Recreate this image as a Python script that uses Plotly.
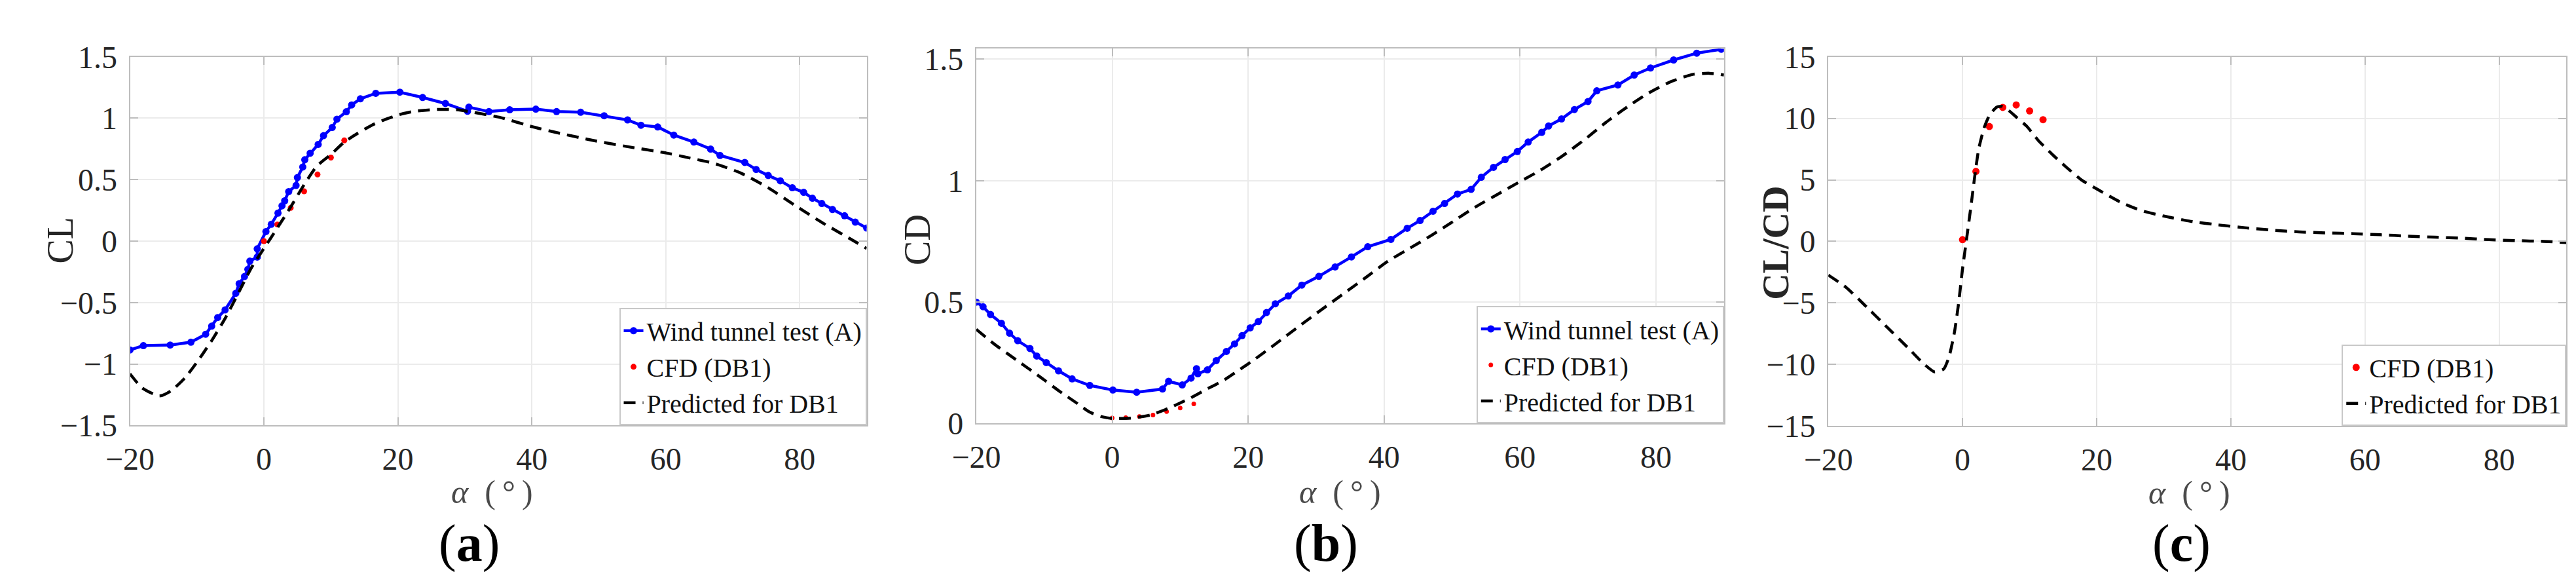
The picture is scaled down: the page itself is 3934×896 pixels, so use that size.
import plotly.graph_objects as go

# ---------------- data ----------------
# (a) lift coefficient
a_wt_alpha = [-20, -18, -14, -10.9, -8.7, -7.8, -6.9, -5.8, -4.2, -3.7, -2.9, -2.4, -2.1, -1.0, -1.0,
              0.3, 1.1, 2.1, 2.7, 3.1, 3.7, 4.8, 5.0, 5.8, 6.1, 6.9, 8.1, 8.9, 10.2, 10.9,
              12.3, 13.1, 14.4, 16.7, 20.3, 23.7, 27.1, 30.4, 30.6, 33.6, 36.7, 40.6, 43.7, 47.3, 50.8,
              54.3, 56.3, 58.8, 61.2, 64.2, 66.7, 68.1, 71.8, 73.5, 75.3, 77.1, 78.9, 80.6, 81.9, 83.3,
              84.9, 86.7, 88.3, 90]
a_wt_cl = [-0.886, -0.851, -0.846, -0.823, -0.758, -0.692, -0.622, -0.56, -0.425, -0.347, -0.288, -0.23, -0.163, -0.13, -0.063,
           0.078, 0.137, 0.228, 0.287, 0.328, 0.403, 0.453, 0.517, 0.603, 0.662, 0.715, 0.787, 0.858, 0.925, 0.992,
           1.053, 1.108, 1.158, 1.203, 1.212, 1.169, 1.12, 1.057, 1.09, 1.054, 1.069, 1.074, 1.054, 1.049, 1.02,
           0.986, 0.943, 0.929, 0.863, 0.806, 0.749, 0.697, 0.64, 0.583, 0.534, 0.491, 0.434, 0.397, 0.349, 0.306,
           0.257, 0.206, 0.154, 0.106]

cfd_alpha = [0, 2, 4, 6, 8, 10, 12]
a_cfd_cl = [0.0, 0.135, 0.27, 0.405, 0.542, 0.68, 0.82]

a_pred_alpha = [-20, -18.2, -15.6, -13.9, -11.8, -9.8, -7.8, -5.7, -3.7, -1.9, 0, 1.8, 3.8, 5.9, 7.9,
                10, 12, 14, 16.1, 18.1, 20.2, 22.2, 25.5, 28.8, 31.2, 35.3, 40.2, 44.2, 49.1, 54.9,
                59.8, 63.0, 67.1, 71.2, 75.3, 79.3, 83.4, 87.5, 90]
a_pred_cl = [-1.08, -1.194, -1.26, -1.22, -1.114, -0.97, -0.81, -0.62, -0.41, -0.22, -0.06, 0.09, 0.26, 0.45, 0.61,
             0.705, 0.806, 0.877, 0.943, 0.99, 1.029, 1.054, 1.071, 1.069, 1.049, 1.006, 0.929, 0.877, 0.82, 0.763,
             0.72, 0.683, 0.634, 0.554, 0.434, 0.291, 0.149, 0.02, -0.06]

# (b) drag coefficient
b_wt_alpha = [-20, -19, -17.9, -16.3, -15.1, -13.9, -12.1, -11.1, -9.7, -7.9,
              -5.9, -3.3, 0.1, 3.6, 7.4, 8.3, 10.3, 11.6, 12.4, 12.6,
              14.0, 15.3, 16.8, 18.0, 19.1, 20.3, 21.5, 22.7, 24.0, 25.9,
              27.9, 30.4, 32.8, 35.2, 37.6, 41.0, 43.4, 45.3, 47.2, 48.9,
              50.8, 52.8, 54.3, 56.1, 57.8, 59.6, 61.2, 63.2, 64.2, 66.1,
              68.0, 70.0, 71.3, 74.4, 76.8, 79.2, 82.6, 86.0, 89.6]
b_wt_cd = [0.5, 0.481, 0.449, 0.413, 0.372, 0.341, 0.309, 0.278, 0.251, 0.217,
           0.184, 0.157, 0.138, 0.129, 0.142, 0.174, 0.159, 0.187, 0.226, 0.205,
           0.221, 0.259, 0.297, 0.328, 0.362, 0.394, 0.42, 0.457, 0.493, 0.525,
           0.57, 0.606, 0.645, 0.686, 0.728, 0.758, 0.804, 0.836, 0.874, 0.906,
           0.945, 0.964, 1.014, 1.055, 1.087, 1.12, 1.159, 1.199, 1.225, 1.254,
           1.293, 1.326, 1.37, 1.394, 1.435, 1.464, 1.497, 1.525, 1.541]

b_cfd_cd = [0.023, 0.024, 0.029, 0.035, 0.049, 0.064, 0.081]

b_pred_alpha = [-20, -17.3, -14.1, -10.9, -7.7, -5.0, -3.3, -1.5, 0, 2.7, 5.6, 8.4, 11.3, 13.8, 16.4,
                18.9, 21.1, 24, 27.7, 30.9, 34.1, 37.3, 40.5, 43.8, 47, 50.2, 53.4, 56.6, 59.8, 63.0,
                66.2, 69.4, 72.6, 75.8, 79.0, 82.3, 85.5, 87.9, 90]
b_pred_cd = [0.388, 0.326, 0.262, 0.198, 0.132, 0.08, 0.047, 0.028, 0.021, 0.022, 0.035, 0.064, 0.102, 0.14, 0.178,
             0.225, 0.267, 0.327, 0.405, 0.471, 0.536, 0.601, 0.667, 0.722, 0.775, 0.833, 0.891, 0.942, 0.993, 1.043,
             1.101, 1.167, 1.239, 1.304, 1.362, 1.409, 1.438, 1.442, 1.435]

# (c) lift-to-drag ratio
c_cfd_ratio = [0.14, 5.69, 9.34, 10.89, 11.09, 10.6, 9.89]

c_pred_alpha = [-20, -17.4, -14.6, -11.3, -8.1, -5.8, -4.2, -2.8, -2.0, -1.2,
                -0.6, 0, 0.57, 1.2, 1.8, 2.4, 3.2, 4.05, 5.1, 5.9,
                6.9, 8.1, 9.6, 11.3, 13.4, 15.4, 17.8, 20.2, 23.5, 26.7,
                30.0, 34.0, 38.1, 42.1, 46.2, 50.2, 54.3, 58.3, 62.3, 66.4,
                70.4, 74.5, 78.5, 82.6, 86.6, 90]
c_pred_ratio = [-2.74, -3.71, -5.17, -6.94, -8.66, -9.94, -10.6, -10.37, -9.37, -7.37,
                -5.09, -2.23, 0.06, 2.63, 5.2, 7.49, 9.2, 10.29, 10.91, 10.97,
                10.63, 10.06, 9.34, 8.2, 7.06, 6.06, 4.97, 4.2, 3.2, 2.49,
                2.06, 1.63, 1.34, 1.11, 0.91, 0.77, 0.69, 0.63, 0.54, 0.43,
                0.34, 0.26, 0.14, 0.06, 0.0, -0.09]

x_tickvals = [-20, 0, 20, 40, 60, 80]
name_wt = "Wind tunnel test (A)"
name_cfd = "CFD (DB1)"
name_pred = "Predicted for DB1"

# ---------------- layout constants (pixels) ----------------
W, H = 3934, 896
FONT = "Liberation Serif"
BLUE = "#0000ff"
RED = "#ff0000"
AXC = "#bdbdbd"
GRIDC = "#ebebeb"
TICKC = "#262626"

panels = [  # left, right, top, bottom
    (154, 1290, 56, 654),
    (1459, 2612, 43, 651),
    (2773, 3911, 56, 655),
]


def px(x):
    return x / W


def py(y):
    return 1 - y / H


fig = go.Figure()

dash = "18px,11px"

# panel (a)
fig.add_trace(go.Scatter(x=a_wt_alpha, y=a_wt_cl, mode="lines+markers", name=name_wt,
                         line=dict(color=BLUE, width=4.5), marker=dict(color=BLUE, size=11),
                         xaxis="x", yaxis="y", legend="legend"))
fig.add_trace(go.Scatter(x=cfd_alpha, y=a_cfd_cl, mode="markers", name=name_cfd,
                         marker=dict(color=RED, size=9), xaxis="x", yaxis="y", legend="legend"))
fig.add_trace(go.Scatter(x=a_pred_alpha, y=a_pred_cl, mode="lines", name=name_pred,
                         line=dict(color="black", width=4.5, dash=dash, shape="spline", smoothing=0.6),
                         xaxis="x", yaxis="y", legend="legend"))
# panel (b)
fig.add_trace(go.Scatter(x=b_wt_alpha, y=b_wt_cd, mode="lines+markers", name=name_wt,
                         line=dict(color=BLUE, width=4.5), marker=dict(color=BLUE, size=11),
                         xaxis="x2", yaxis="y2", legend="legend2"))
fig.add_trace(go.Scatter(x=cfd_alpha, y=b_cfd_cd, mode="markers", name=name_cfd,
                         marker=dict(color=RED, size=7), xaxis="x2", yaxis="y2", legend="legend2"))
fig.add_trace(go.Scatter(x=b_pred_alpha, y=b_pred_cd, mode="lines", name=name_pred,
                         line=dict(color="black", width=4.5, dash=dash, shape="spline", smoothing=0.6),
                         xaxis="x2", yaxis="y2", legend="legend2"))
# panel (c)
fig.add_trace(go.Scatter(x=cfd_alpha, y=c_cfd_ratio, mode="markers", name=name_cfd,
                         marker=dict(color=RED, size=11), xaxis="x3", yaxis="y3", legend="legend3"))
fig.add_trace(go.Scatter(x=c_pred_alpha, y=c_pred_ratio, mode="lines", name=name_pred,
                         line=dict(color="black", width=4.5, dash=dash, shape="spline", smoothing=0.5),
                         xaxis="x3", yaxis="y3", legend="legend3"))

axis_common = dict(showline=True, linecolor=AXC, linewidth=2, mirror="ticks",
                   ticks="inside", ticklen=12, tickwidth=2, tickcolor=AXC,
                   showgrid=True, gridcolor=GRIDC, gridwidth=2, zeroline=False,
                   tickfont=dict(family=FONT, size=48, color=TICKC))

yranges = [[-1.5, 1.5], [0, 1.543], [-15, 15]]
ydticks = [0.5, 0.5, 5]
names = ["", "2", "3"]
for i, (l, r, t, b) in enumerate(panels):
    sfx = names[i]
    fig.update_layout({
        f"xaxis{sfx}": dict(axis_common, domain=[px(l), px(r)], range=[-20, 90],
                            tickvals=x_tickvals, anchor=f"y{sfx}", ticklabelstandoff=8),
        f"yaxis{sfx}": dict(axis_common, domain=[py(b), py(t)], range=yranges[i],
                            dtick=ydticks[i], tick0=0, anchor=f"x{sfx}", ticklabelstandoff=8),
    })

legend_common = dict(bgcolor="white", bordercolor="#c8c8c8", borderwidth=2,
                     font=dict(family=FONT, size=40, color="#111111"),
                     xanchor="right", yanchor="bottom", itemwidth=30, tracegroupgap=0)
fig.update_layout(
    legend=dict(legend_common, x=px(1290), y=py(654)),
    legend2=dict(legend_common, x=px(2612), y=py(651)),
    legend3=dict(legend_common, x=px(3911), y=py(655)),
)

annotations = []
# y titles
for (x, y, txt) in [(47, 354, "CL"), (1368, 353, "CD"), (2692, 358, "<b>CL/CD</b>")]:
    annotations.append(dict(x=px(x), y=py(y), xref="paper", yref="paper", text=txt,
                            textangle=-90, showarrow=False, xanchor="center", yanchor="middle",
                            font=dict(family=FONT, size=56, color=TICKC)))
# x titles
for (x, y) in [(712, 762), (2020, 762), (3330, 763)]:
    annotations.append(dict(x=px(x), y=py(y), xref="paper", yref="paper",
                            text="<i>α</i>\u00a0\u00a0(\u2009°\u2009)", showarrow=False,
                            xanchor="center", yanchor="middle",
                            font=dict(family=FONT, size=50, color="#4a4a4a")))
# panel labels
for (x, y, letter) in [(677, 846, "a"), (1998, 846, "b"), (3318, 846, "c")]:
    annotations.append(dict(x=px(x), y=py(y), xref="paper", yref="paper",
                            text=f"(<b>{letter}</b>)", showarrow=False,
                            xanchor="center", yanchor="middle",
                            font=dict(family=FONT, size=80, color="black")))

fig.update_layout(
    width=W, height=H, autosize=False,
    margin=dict(l=0, r=0, t=0, b=0),
    paper_bgcolor="white", plot_bgcolor="white",
    annotations=annotations,
    font=dict(family=FONT),
)

fig.write_html("out.html")
